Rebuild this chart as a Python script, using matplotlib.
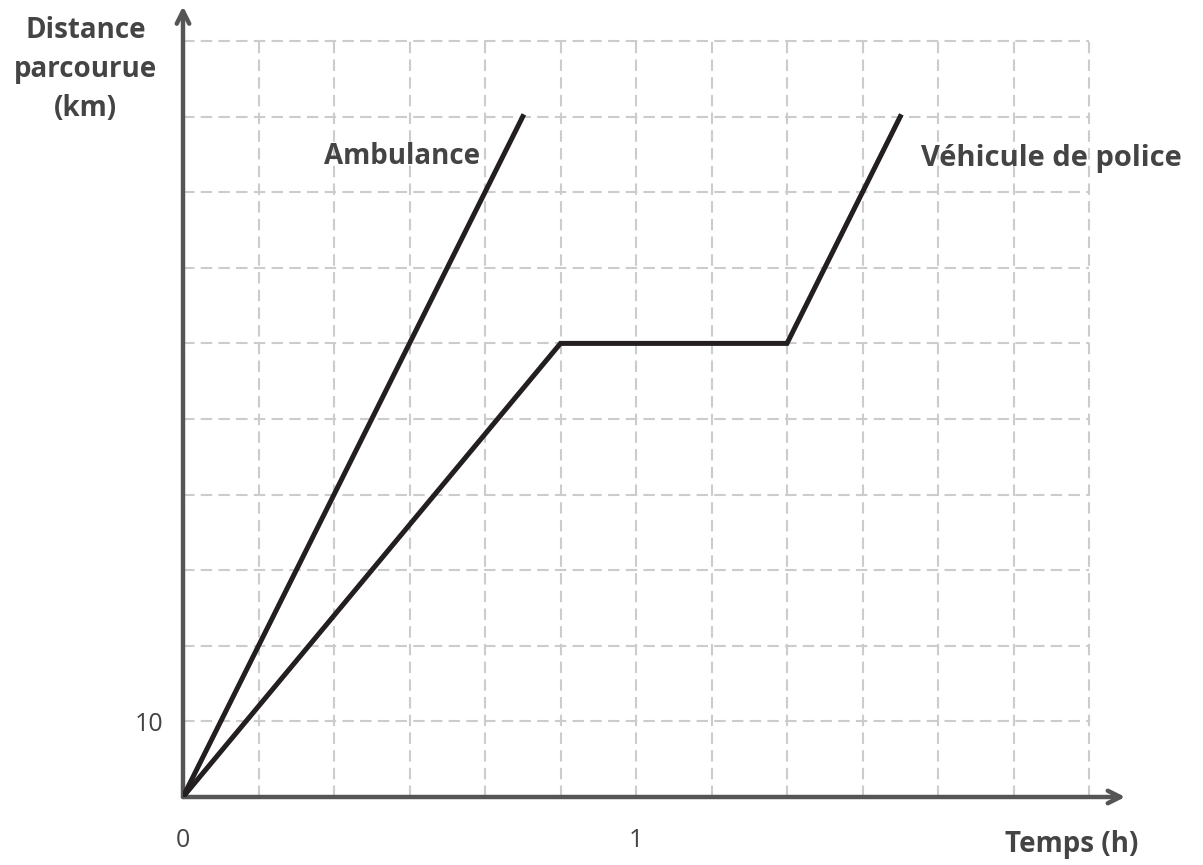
import numpy as np
import matplotlib.pyplot as plt

# temps en heures, distance en km
ambulance_t = [0, 0.75]
ambulance_d = [0, 90]
police_t = [0, 5 / 6, 8 / 6, 9.5 / 6]
police_d = [0, 60, 60, 90]

x_ticks = [0, 1]
y_ticks = [10]
grid_x = np.arange(1, 13) / 6
grid_y = np.arange(10, 101, 10)

axis_col = '#555555'
text_col = '#444444'
plt.rcParams['font.family'] = ['Open Sans', 'DejaVu Sans']

fig = plt.figure(figsize=(12.03, 8.65), dpi=100)
W, H = 1203, 865
ax = fig.add_axes([183 / W, 68 / H, (1140 - 183) / W, 797 / H])
ax.set_xlim(0, (1140 - 183) / 453)
ax.set_ylim(0, 797 / 7.56)
for s in ax.spines.values():
    s.set_visible(False)

# grille pointillée
grid_kw = dict(color='#cccccc', lw=1.5, linestyles=(0, (5.5, 3)), zorder=1)
ax.vlines(grid_x, 0, 100, **grid_kw)
ax.hlines(grid_y, 0, 2, **grid_kw)

# axes avec flèches
arrow = dict(arrowstyle='->,head_length=0.9,head_width=0.45', color=axis_col,
             lw=3.2, shrinkA=0, shrinkB=0, capstyle='round')
ax.annotate('', xy=(2.08, 0), xytext=(0, 0), arrowprops=arrow,
            annotation_clip=False)
ax.annotate('', xy=(0, 104.6), xytext=(0, 0), arrowprops=arrow,
            annotation_clip=False)

ax.plot(ambulance_t, ambulance_d, color='#231f20', lw=3.6,
        solid_joinstyle='miter', zorder=3)
ax.plot(police_t, police_d, color='#231f20', lw=3.6,
        solid_joinstyle='miter', zorder=3)

ax.set_xticks(x_ticks)
ax.set_xticklabels(['0', '1'])
ax.set_yticks(y_ticks)
ax.set_yticklabels(['10'])
ax.tick_params(length=0, labelsize=18, colors=text_col)
ax.tick_params(axis='x', pad=22)
ax.tick_params(axis='y', pad=14)

bold = dict(fontsize=20, fontweight='bold', color=text_col)
ax.text(-0.215, 96.2, 'Distance\nparcourue\n(km)', ha='center', va='center',
        linespacing=1.45, **bold)
ax.text(2.11, -6.3, 'Temps (h)', ha='right', va='center', **bold)
ax.text(0.483, 84.7, 'Ambulance', ha='center', va='center', **bold)
ax.text(1.63, 84.4, 'Véhicule de police', ha='left', va='center',
        fontsize=21, fontweight='bold', color=text_col)

fig.savefig('out.png', dpi=100)
